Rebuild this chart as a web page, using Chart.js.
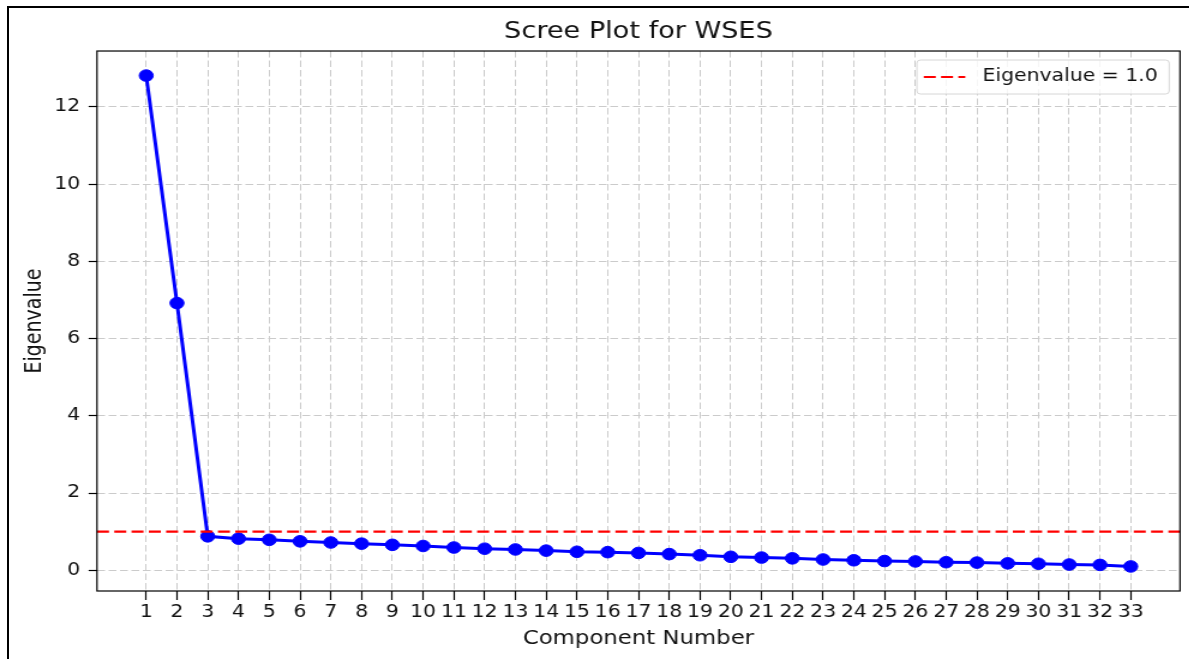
<!DOCTYPE html>
<html>
<head>
<meta charset="utf-8">
<script src="https://cdn.jsdelivr.net/npm/chart.js@4/dist/chart.umd.min.js"></script>
<style>
html, body { margin: 0; padding: 0; background: #fff; overflow: hidden; width: 1189px; height: 659px; }
#frame { position: absolute; left: 7px; top: 6px; width: 1400px; height: 900px; border-left: 2px solid #000; border-top: 2px solid #000; }
#wrap { position: absolute; left: 0; top: 0; width: 991px; height: 659px; transform: scaleX(1.2); transform-origin: 0 0; }
</style>
</head>
<body>
<div id="frame"></div>
<div id="wrap"><canvas id="c" width="991" height="659"></canvas></div>
<script>
// ---- data ----
const COMPONENTS = [1, 2, 3, 4, 5, 6, 7, 8, 9, 10, 11, 12, 13, 14, 15, 16, 17,
                    18, 19, 20, 21, 22, 23, 24, 25, 26, 27, 28, 29, 30, 31, 32, 33];
const EIGENVALUES = [12.81, 6.92, 0.88, 0.82, 0.79, 0.75, 0.72, 0.69, 0.66, 0.63, 0.59,
                     0.56, 0.54, 0.51, 0.48, 0.47, 0.45, 0.42, 0.39, 0.35, 0.33, 0.31,
                     0.28, 0.26, 0.24, 0.23, 0.21, 0.20, 0.18, 0.17, 0.15, 0.14, 0.10];
const X_TICKS = COMPONENTS;
const Y_TICKS = [0, 2, 4, 6, 8, 10, 12];
const THRESHOLD = 1.0;
const TITLE = 'Scree Plot for WSES';
const X_LABEL = 'Component Number';
const Y_LABEL = 'Eigenvalue';
const THRESHOLD_LABEL = 'Eigenvalue = ' + THRESHOLD.toFixed(1);

// axis limits with 5% margins (matplotlib-style autoscale)
const xr = COMPONENTS[COMPONENTS.length - 1] - COMPONENTS[0];
const X_MIN = COMPONENTS[0] - 0.05 * xr, X_MAX = COMPONENTS[COMPONENTS.length - 1] + 0.05 * xr;
const yMaxD = Math.max(...EIGENVALUES), yMinD = Math.min(...EIGENVALUES);
const yr = yMaxD - yMinD;
const Y_MIN = yMinD - 0.05 * yr, Y_MAX = yMaxD + 0.05 * yr;

const FONT = '"DejaVu Sans", Verdana, sans-serif';
const TEXT = '#111';
const GRID = '#cbcbcb';

const extras = {
  id: 'extras',
  afterDatasetsDraw(chart) {
    const { ctx, chartArea: a, scales: { y } } = chart;
    const py = y.getPixelForValue(THRESHOLD);
    ctx.save();
    ctx.strokeStyle = '#ff0000';
    ctx.lineWidth = 2.2;
    ctx.setLineDash([10, 4.4]);
    ctx.beginPath();
    ctx.moveTo(a.left, py);
    ctx.lineTo(a.right, py);
    ctx.stroke();
    ctx.restore();
  },
  afterDraw(chart) {
    const { ctx, chartArea: a } = chart;
    ctx.save();
    // axes frame
    ctx.strokeStyle = '#000';
    ctx.lineWidth = 1.2;
    ctx.setLineDash([]);
    ctx.strokeRect(a.left, a.top, a.right - a.left, a.bottom - a.top);
    // legend
    ctx.font = '17px ' + FONT;
    const tw = ctx.measureText(THRESHOLD_LABEL).width;
    const lp = 5.7, sampleW = 34.6, gap = 14.4, rp = 9.5, h = 34, pad = 9;
    const w = lp + sampleW + gap + tw + rp;
    const x0 = a.right - pad - w, y0 = a.top + pad;
    ctx.beginPath();
    if (ctx.roundRect) ctx.roundRect(x0, y0, w, h, 3); else ctx.rect(x0, y0, w, h);
    ctx.fillStyle = 'rgba(255,255,255,0.8)';
    ctx.fill();
    ctx.strokeStyle = '#d6d6d6';
    ctx.lineWidth = 1;
    ctx.stroke();
    const cy = y0 + h / 2;
    ctx.strokeStyle = '#ff0000';
    ctx.lineWidth = 2.2;
    ctx.setLineDash([10, 4.4]);
    ctx.beginPath();
    ctx.moveTo(x0 + lp, cy);
    ctx.lineTo(x0 + lp + sampleW, cy);
    ctx.stroke();
    ctx.setLineDash([]);
    ctx.fillStyle = TEXT;
    ctx.textBaseline = 'middle';
    ctx.textAlign = 'left';
    ctx.fillText(THRESHOLD_LABEL, x0 + lp + sampleW + gap, cy);
    ctx.restore();
  }
};

new Chart(document.getElementById('c'), {
  type: 'line',
  data: {
    datasets: [{
      label: 'Eigenvalues',
      data: COMPONENTS.map((c, i) => ({ x: c, y: EIGENVALUES[i] })),
      borderColor: '#0000ff',
      backgroundColor: '#0000ff',
      borderWidth: 3,
      pointRadius: 5.8,
      pointBorderWidth: 1,
      pointBackgroundColor: '#0000ff',
      pointBorderColor: '#0000ff',
      tension: 0,
      clip: false
    }]
  },
  options: {
    responsive: false,
    animation: false,
    devicePixelRatio: 1,
    layout: { padding: { top: 0, right: 7.7, bottom: 0, left: 0 } },
    plugins: {
      legend: { display: false },
      tooltip: { enabled: false },
      title: {
        display: true,
        text: TITLE,
        fullSize: false,
        color: TEXT,
        font: { family: FONT, size: 22.6, weight: 'normal' },
        padding: { top: 19, bottom: 4.9 }
      }
    },
    scales: {
      x: {
        type: 'linear',
        min: X_MIN,
        max: X_MAX,
        afterBuildTicks: s => { s.ticks = X_TICKS.map(v => ({ value: v })); },
        afterFit: s => { s.height = 68; },
        ticks: { autoSkip: false, maxRotation: 0, minRotation: 0, padding: 2,
                 color: TEXT, font: { family: FONT, size: 17 } },
        grid: { color: GRID, lineWidth: 1, drawTicks: true, tickLength: 9,
                tickColor: '#000', tickWidth: 1.2, tickBorderDash: [] },
        border: { display: false, dash: [6.5, 3] },
        title: { display: true, text: X_LABEL, color: TEXT,
                 font: { family: FONT, size: 19, weight: 'normal' },
                 padding: { top: 0, bottom: 9 } }
      },
      y: {
        type: 'linear',
        min: Y_MIN,
        max: Y_MAX,
        afterBuildTicks: s => { s.ticks = Y_TICKS.map(v => ({ value: v })); },
        afterFit: s => { s.width = 80.8; },
        ticks: { padding: 7, color: TEXT, font: { family: FONT, size: 17 } },
        grid: { color: GRID, lineWidth: 1, drawTicks: true, tickLength: 7,
                tickColor: '#000', tickWidth: 1.2, tickBorderDash: [] },
        border: { display: false, dash: [6.5, 3] },
        title: { display: true, text: Y_LABEL, color: TEXT,
                 font: { family: FONT, size: 19, weight: 'normal' },
                 padding: { top: 17.5, bottom: 0 } }
      }
    }
  },
  plugins: [extras]
});
</script>
</body>
</html>
